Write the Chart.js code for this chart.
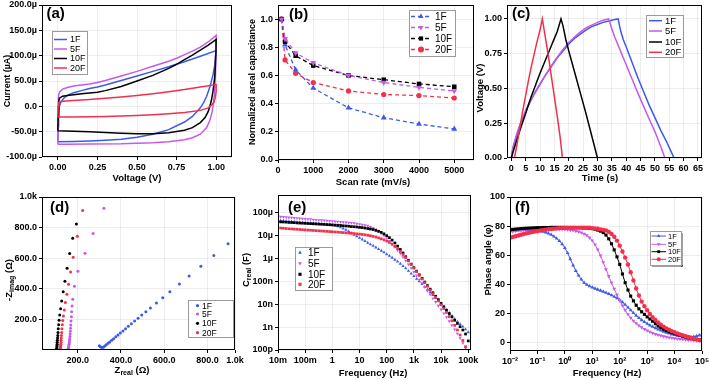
<!DOCTYPE html>
<html><head><meta charset="utf-8">
<script src="https://cdn.jsdelivr.net/npm/chart.js@4.4.1/dist/chart.umd.min.js"></script>
<style>
html,body{margin:0;padding:0;background:#fff;}
body{width:709px;height:380px;position:relative;overflow:hidden;}
canvas{position:absolute;left:0;top:0;}
</style></head><body>
<canvas id="ca" width="709" height="380"></canvas>
<canvas id="cb" width="709" height="380"></canvas>
<canvas id="cc" width="709" height="380"></canvas>
<canvas id="cd" width="709" height="380"></canvas>
<canvas id="ce" width="709" height="380"></canvas>
<canvas id="cf" width="709" height="380"></canvas>
<script>
// ---------------- DATA ----------------
const seriesNames = ['1F','5F','10F','20F'];

// (a) CV loops: [voltage V, current µA]
const cv1F = [[0,-70],[0.002,-40],[0.005,-15],[0.01,0],[0.02,9],[0.04,17],[0.07,23],[0.1,27],[0.15,31],[0.2,35],[0.25,38],[0.3,42],[0.4,51],[0.5,60],[0.6,69],[0.7,78],[0.75,83],[0.8,88],[0.9,99],[1.0,110],
  [0.995,95],[0.99,80],[0.98,62],[0.96,38],[0.94,20],[0.92,7],[0.9,-3],[0.85,-20],[0.8,-31],[0.7,-46],[0.6,-55],[0.5,-61],[0.4,-65],[0.3,-67],[0.2,-68.5],[0.1,-69.5],[0,-70]];
const cv5F = [[0,-75],[0.001,-40],[0.002,0],[0.004,20],[0.01,28],[0.03,34],[0.06,37],[0.1,40],[0.15,42],[0.2,44],[0.25,47],[0.3,51],[0.4,60],[0.5,69],[0.6,79],[0.7,89],[0.75,95],[0.8,102],[0.85,109],[0.9,117],[0.95,127],[1.0,140],
  [1.0,130],[0.998,100],[0.995,60],[0.99,30],[0.985,10],[0.975,-10],[0.96,-28],[0.94,-42],[0.9,-55],[0.85,-62],[0.8,-66],[0.7,-70],[0.6,-72],[0.5,-73],[0.4,-74],[0.2,-74.5],[0.05,-75],[0,-75]];
const cv10F = [[0,-48],[0.002,-20],[0.005,10],[0.01,16],[0.03,20],[0.07,22],[0.1,23],[0.15,25],[0.2,26.5],[0.25,28],[0.3,31],[0.4,39],[0.5,50],[0.6,61],[0.7,75],[0.75,83],[0.8,92],[0.85,101],[0.9,111],[0.95,121],[1.0,132],
  [0.999,110],[0.995,80],[0.99,55],[0.98,30],[0.97,12],[0.96,0],[0.95,-10],[0.93,-22],[0.9,-32],[0.85,-42],[0.8,-47],[0.7,-52],[0.6,-54],[0.5,-54],[0.4,-53],[0.3,-51.5],[0.2,-50],[0.1,-49],[0,-48]];
const cv20F = [[0,-21],[0.002,0],[0.005,7],[0.01,9],[0.05,10.5],[0.1,11.5],[0.2,13.5],[0.3,16],[0.4,18.5],[0.5,21.5],[0.6,25],[0.7,29],[0.8,33],[0.9,38],[1.0,43],
  [1.0,30],[0.995,18],[0.985,8],[0.97,2],[0.95,-3],[0.9,-8],[0.8,-12],[0.7,-14.5],[0.6,-16.5],[0.5,-18],[0.4,-19],[0.3,-20],[0.2,-20.5],[0.1,-21],[0,-21]];
const aXTicks = [0,0.25,0.5,0.75,1.0];
const aXLabels = ['0.00','0.25','0.50','0.75','1.00'];
const aYTicks = [-100,-50,0,50,100,150,200];
const aYLabels = ['-100.0µ','-50.0µ','0.0','50.0µ','100.0µ','150.0µ','200.0µ'];

// (b) normalized areal capacitance vs scan rate
const scanRate = [100,200,500,1000,2000,3000,4000,5000];
const cap1F  = [1.0,0.817,0.64,0.51,0.37,0.30,0.255,0.22];
const cap5F  = [1.0,0.86,0.76,0.69,0.60,0.55,0.515,0.49];
const cap10F = [1.0,0.84,0.74,0.67,0.60,0.57,0.54,0.52];
const cap20F = [1.0,0.71,0.615,0.55,0.49,0.465,0.457,0.44];
const bXTicks = [0,1000,2000,3000,4000,5000];
const bXLabels = ['0','1000','2000','3000','4000','5000'];
const bYTicks = [0,0.2,0.4,0.6,0.8,1.0];
const bYLabels = ['0.0','0.2','0.4','0.6','0.8','1.0'];

// (c) galvanostatic charge/discharge: [time s, voltage V]
const gcd1F = [[0,0],[0.5,0.06],[1,0.1],[2,0.17],[3,0.23],[4,0.285],[5,0.335],[6,0.38],[8,0.46],[10,0.53],[12,0.6],[14,0.66],[16,0.72],[18,0.77],[20,0.82],[22,0.86],[24,0.89],[26,0.92],[28,0.945],[30,0.96],[32,0.975],[34,0.985],[36,0.995],[37.2,1.0],
  [38,0.92],[39,0.85],[40,0.8],[42,0.69],[44,0.58],[46,0.48],[48,0.38],[50,0.29],[52,0.2],[54,0.12],[56,0.03],[56.7,0]];
const gcd5F = [[0,0],[0.5,0.07],[1,0.11],[2,0.18],[3,0.24],[4,0.29],[5,0.34],[6,0.385],[8,0.465],[10,0.535],[12,0.6],[14,0.665],[16,0.725],[18,0.78],[20,0.83],[22,0.87],[24,0.905],[26,0.935],[28,0.955],[30,0.975],[32,0.99],[33.9,1.0],
  [35,0.93],[36,0.87],[38,0.77],[40,0.67],[42,0.57],[44,0.47],[46,0.375],[48,0.28],[50,0.19],[52,0.085],[53.5,0]];
const gcd10F = [[0,0],[1,0.07],[2,0.135],[3,0.2],[4,0.26],[5,0.32],[6,0.385],[7,0.445],[8,0.5],[9,0.555],[10,0.61],[11,0.66],[12,0.71],[13,0.76],[14,0.81],[15,0.86],[16,0.91],[17.3,1.0],
  [18,0.95],[19,0.85],[20,0.77],[22,0.62],[24,0.47],[26,0.32],[28,0.16],[30,0]];
const gcd20F = [[1.1,0],[2,0.1],[3,0.22],[4,0.34],[5,0.45],[6,0.56],[7,0.66],[8,0.75],[9,0.84],[10,0.92],[10.8,1.0],
  [12,0.85],[13,0.72],[14,0.58],[15,0.44],[16,0.3],[17,0.15],[17.8,0]];
const cXTicks = [0,5,10,15,20,25,30,35,40,45,50,55,60,65];
const cXLabels = ['0','5','10','15','20','25','30','35','40','45','50','55','60','65'];
const cYTicks = [0,0.25,0.5,0.75,1.0];
const cYLabels = ['0.00','0.25','0.50','0.75','1.00'];

// (d) Nyquist: [Zreal Ω, -Zimag Ω]
const nyq1F = [[300,27],[305,21],[311,17],[318,18],[325,26],[332,34],[340,44],[348,53],[357,64],[366,74],[376,86],[386,98],[397,111],[409,125],[421,139],[434,156],[448,172],[463,190],[479,208],[496,228],[515,250],[536,275],[564,308],[593,342],[626,380],[670,432],[715,484],[769,548],[829,618],[895,695]];
const nyq5F = [[156,3],[157,10],[158,18],[159,27],[160,37],[161,48],[162,60],[163,73],[164,88],[165,104],[166,122],[167,142],[168,164],[169,189],[171,217],[172,250],[174,288],[177,331],[185,416],[201,514],[234,632],[271,762],[321,926]];
const nyq10F = [[103,4],[103,11],[104,19],[104,28],[105,38],[105,50],[106,63],[107,78],[108,95],[109,115],[110,139],[112,165],[114,194],[117,228],[121,270],[126,320],[133,380],[141,450],[151,535],[163,630],[177,730],[194,824]];
const nyq20F = [[120,4],[120,11],[121,19],[121,28],[122,38],[123,50],[123,63],[124,78],[125,95],[126,115],[127,139],[129,165],[131,192],[134,222],[138,262],[143,310],[150,365],[158,430],[167,509],[179,607],[198,743],[223,911]];
const dXTicks = [200,400,600,800,927];
const dXLabels = ['200.0','400.0','600.0','800.0','1.0k'];
const dYTicks = [200,400,600,800,1000];
const dYLabels = ['200.0','400.0','600.0','800.0','1.0k'];

// (e),(f) frequency sweep
const freq = [0.01,0.0126,0.0158,0.02,0.0251,0.0316,0.0398,0.0501,0.0631,0.0794,
  0.1,0.126,0.158,0.2,0.251,0.316,0.398,0.501,0.631,0.794,
  1,1.26,1.58,2,2.51,3.16,3.98,5.01,6.31,7.94,
  10,12.6,15.8,20,25.1,31.6,39.8,50.1,63.1,79.4,
  100,126,158,200,251,316,398,501,631,794,
  1000,1260,1580,2000,2510,3160,3980,5010,6310,7940,
  10000,12600,15800,20000,25100,31600,39800,50100,63100,79400,100000];

const creal1F = [4.6e-5,4.5e-5,4.4e-5,4.3e-5,4.2e-5,4.1e-5,4.0e-5,3.9e-5,3.8e-5,3.75e-5,
  3.7e-5,3.6e-5,3.55e-5,3.5e-5,3.4e-5,3.35e-5,3.3e-5,3.2e-5,3.1e-5,3.0e-5,
  2.9e-5,2.75e-5,2.55e-5,2.3e-5,2.05e-5,1.8e-5,1.55e-5,1.3e-5,1.1e-5,9.4e-6,
  8.0e-6,6.8e-6,5.8e-6,4.9e-6,4.2e-6,3.6e-6,3.05e-6,2.6e-6,2.2e-6,1.85e-6,
  1.55e-6,1.3e-6,1.08e-6,8.9e-7,7.3e-7,5.9e-7,4.7e-7,3.7e-7,2.9e-7,2.2e-7,
  1.7e-7,1.3e-7,1.0e-7,7.6e-8,5.8e-8,4.4e-8,3.3e-8,2.5e-8,1.85e-8,1.38e-8,
  1.02e-8,7.6e-9,5.6e-9,4.2e-9,3.1e-9,2.3e-9,1.75e-9,1.35e-9,1.05e-9,8.0e-10,6.0e-10];
const creal5F = [6.8e-5,6.7e-5,6.5e-5,6.4e-5,6.2e-5,6.1e-5,5.9e-5,5.8e-5,5.6e-5,5.5e-5,
  5.4e-5,5.3e-5,5.2e-5,5.0e-5,4.9e-5,4.8e-5,4.7e-5,4.6e-5,4.5e-5,4.4e-5,
  4.3e-5,4.2e-5,4.1e-5,4.0e-5,3.9e-5,3.8e-5,3.7e-5,3.6e-5,3.5e-5,3.3e-5,
  3.2e-5,3.05e-5,2.9e-5,2.7e-5,2.4e-5,2.1e-5,1.85e-5,1.55e-5,1.25e-5,1.0e-5,
  7.8e-6,5.9e-6,4.4e-6,3.2e-6,2.3e-6,1.65e-6,1.15e-6,8.0e-7,5.5e-7,3.8e-7,
  2.6e-7,1.8e-7,1.2e-7,8.3e-8,5.7e-8,3.9e-8,2.7e-8,1.8e-8,1.25e-8,8.6e-9,
  5.9e-9,4.0e-9,2.7e-9,1.8e-9,1.2e-9,8.0e-10,5.2e-10,3.3e-10,2.0e-10,1.2e-10,7.0e-11];
const creal10F = [4.1e-5,4.0e-5,3.95e-5,3.9e-5,3.8e-5,3.75e-5,3.7e-5,3.6e-5,3.55e-5,3.5e-5,
  3.45e-5,3.4e-5,3.35e-5,3.3e-5,3.25e-5,3.2e-5,3.15e-5,3.1e-5,3.05e-5,3.0e-5,
  2.95e-5,2.9e-5,2.85e-5,2.8e-5,2.7e-5,2.65e-5,2.6e-5,2.5e-5,2.45e-5,2.4e-5,
  2.3e-5,2.25e-5,2.15e-5,2.05e-5,1.95e-5,1.85e-5,1.7e-5,1.55e-5,1.4e-5,1.2e-5,
  1.0e-5,8.2e-6,6.4e-6,4.8e-6,3.5e-6,2.5e-6,1.75e-6,1.2e-6,8.3e-7,5.7e-7,
  4.0e-7,2.8e-7,1.95e-7,1.35e-7,9.4e-8,6.6e-8,4.6e-8,3.2e-8,2.25e-8,1.6e-8,
  1.1e-8,7.8e-9,5.5e-9,3.9e-9,2.8e-9,2.0e-9,1.45e-9,1.05e-9,7.5e-10,5.0e-10,2.5e-10];
const creal20F = [2.2e-5,2.15e-5,2.1e-5,2.05e-5,2.0e-5,1.97e-5,1.93e-5,1.9e-5,1.86e-5,1.82e-5,
  1.78e-5,1.75e-5,1.72e-5,1.69e-5,1.66e-5,1.63e-5,1.6e-5,1.57e-5,1.54e-5,1.51e-5,
  1.48e-5,1.45e-5,1.42e-5,1.39e-5,1.36e-5,1.33e-5,1.3e-5,1.27e-5,1.24e-5,1.2e-5,
  1.17e-5,1.13e-5,1.09e-5,1.04e-5,9.9e-6,9.3e-6,8.7e-6,8.0e-6,7.3e-6,6.6e-6,
  5.8e-6,5.0e-6,4.2e-6,3.4e-6,2.7e-6,2.05e-6,1.5e-6,1.1e-6,7.8e-7,5.5e-7,
  3.8e-7,2.65e-7,1.85e-7,1.28e-7,8.8e-8,6.1e-8,4.2e-8,2.9e-8,2.0e-8,1.4e-8,
  9.5e-9,6.5e-9,4.4e-9,2.9e-9,1.9e-9,1.2e-9,7.5e-10,4.5e-10,2.6e-10,1.4e-10,7e-11];
const eXTicks = [0.01,0.1,1,10,100,1000,10000,100000];
const eXLabels = ['10m','100m','1','10','100','1k','10k','100k'];
const eYTicks = [1e-10,1e-9,1e-8,1e-7,1e-6,1e-5,1e-4];
const eYLabels = ['100p','1n','10n','100n','1µ','10µ','100µ'];

const phase1F = [76.5,76.7,76.9,77.1,77.2,77.3,77.3,77.3,77.2,77.1,
  77.0,76.6,76.2,75.6,74.9,74.0,72.9,71.5,69.8,67.6,
  65.0,61.5,57.3,53.0,49.2,46.0,43.2,41.0,39.6,38.6,
  37.7,37.0,36.3,35.6,34.9,34.1,33.3,32.4,31.4,30.3,
  29.1,27.6,25.9,24.0,22.1,20.2,18.4,16.8,15.3,14.0,
  12.8,11.7,10.7,9.8,8.9,8.1,7.4,6.7,6.1,5.5,
  5.0,4.6,4.2,3.9,3.7,3.6,3.7,3.9,4.3,4.8,5.3];
const phase5F = [76.0,76.3,76.6,76.9,77.1,77.3,77.5,77.6,77.7,77.8,
  77.9,78.0,78.0,78.1,78.1,78.1,78.1,78.0,78.0,77.9,
  77.8,77.6,77.3,77.0,76.6,76.1,75.5,74.7,73.6,72.0,
  70.0,67.3,63.8,59.6,55.0,50.2,45.5,41.0,36.7,32.6,
  28.8,25.3,22.1,19.3,16.9,14.8,13.0,11.5,10.2,9.1,
  8.1,7.2,6.4,5.7,5.1,4.6,4.1,3.7,3.3,3.0,
  2.7,2.4,2.2,2.0,1.8,1.6,1.5,1.3,1.2,1.1,1.0];
const phase10F = [77.5,77.7,77.9,78.1,78.3,78.4,78.5,78.6,78.7,78.8,
  78.9,78.9,79.0,79.0,79.0,79.1,79.1,79.1,79.1,79.1,
  79.1,79.0,79.0,79.0,78.9,78.9,78.8,78.7,78.6,78.4,
  78.2,77.8,77.2,76.5,75.5,73.8,71.2,67.8,63.6,58.8,
  53.6,47.0,41.0,36.0,31.8,28.5,25.5,23.0,21.0,19.2,
  17.5,16.0,14.5,12.8,11.2,10.0,9.0,8.1,7.3,6.6,
  6.0,5.3,4.7,4.1,3.6,3.1,2.7,2.3,2.0,1.7,1.4];
const phase20F = [72.0,72.5,73.0,73.5,74.0,74.5,75.0,75.4,75.8,76.2,
  76.5,76.9,77.2,77.5,77.8,78.0,78.2,78.4,78.5,78.6,
  78.7,78.8,78.8,78.9,78.9,78.9,78.9,78.9,78.8,78.8,
  78.6,78.4,78.1,77.7,77.4,77.0,76.0,74.6,72.6,70.0,
  66.5,62.5,58.3,53.5,48.2,42.5,37.0,32.2,28.0,24.8,
  22.0,19.5,17.3,15.3,13.6,12.1,10.8,9.6,8.6,7.7,
  6.9,6.1,5.4,4.8,4.2,3.6,3.0,2.5,2.0,1.5,1.1];
const fXTicks = [0.01,0.1,1,10,100,1000,10000,100000];
const fXLabels = ['10⁻²','10⁻¹','10⁰','10¹','10²','10³','10⁴','10⁵'];
const fYTicks = [0,20,40,60,80,100];
const fYLabels = ['0','20','40','60','80','100'];

// ---------------- STYLE / HELPERS ----------------
const FAM = '"Liberation Sans", Arial, Helvetica, sans-serif';
const COL = {'1F':'#3c5ae8','5F':'#c65ae8','10F':'#000000','20F':'#f2304c'};
Chart.defaults.font.family = FAM;
Chart.defaults.color = '#000';

const pairsXY = p => p.map(([x,y]) => ({x, y}));
const zipXY = (xs, ys) => xs.map((x,i) => ({x, y: ys[i]}));

function axis(type, min, max, ticks, labels, pos) {
  return {
    type, min, max, position: pos, bounds: 'data',
    afterBuildTicks: s => { s.ticks = ticks.map(v => ({value: v})); },
    ticks: { callback: (v, i) => labels[i], font: {size: 9, weight: 'bold'}, color: '#000',
             padding: 2, autoSkip: false, maxRotation: 0, minRotation: 0 },
    grid: { color: 'rgba(0,0,0,0.07)', lineWidth: 1, tickLength: 3, tickColor: '#000', tickWidth: 1, drawTicks: true },
    border: { display: false },
    title: { display: false }
  };
}

function drawMarker(ctx, style, x, y, r, rot, color) {
  ctx.save();
  ctx.fillStyle = color; ctx.strokeStyle = color; ctx.lineWidth = 1;
  ctx.beginPath();
  if (style === 'triangle') {
    let a = (rot || 0) * Math.PI / 180;
    for (let k = 0; k < 3; k++) {
      const px = x + Math.sin(a) * r, py = y - Math.cos(a) * r;
      k ? ctx.lineTo(px, py) : ctx.moveTo(px, py);
      a += 2 * Math.PI / 3;
    }
    ctx.closePath();
  } else if (style === 'rect') {
    const s = r * Math.SQRT1_2;
    ctx.rect(x - s, y - s, 2 * s, 2 * s);
  } else {
    ctx.arc(x, y, r, 0, Math.PI * 2);
  }
  ctx.fill();
  ctx.restore();
}

function drawParts(ctx, t, size) {
  ctx.save();
  ctx.translate(t.x, t.y);
  if (t.rot) ctx.rotate(-Math.PI / 2);
  const fm = 'bold ' + size + 'px ' + FAM, fs = 'bold ' + Math.round(size * 0.72) + 'px ' + FAM;
  let w = 0;
  const ws = t.parts.map(p => { ctx.font = p.sub ? fs : fm; const m = ctx.measureText(p.t).width; w += m; return m; });
  let cx = -w / 2;
  ctx.fillStyle = '#000'; ctx.textAlign = 'left'; ctx.textBaseline = 'middle';
  t.parts.forEach((p, i) => { ctx.font = p.sub ? fs : fm; ctx.fillText(p.t, cx, p.sub ? size * 0.32 : 0); cx += ws[i]; });
  ctx.restore();
}

function makeDeco(cfg) {
  return {
    id: 'deco',
    afterDraw(chart) {
      const ctx = chart.ctx, a = chart.chartArea;
      ctx.save();
      // frame
      ctx.strokeStyle = '#000'; ctx.lineWidth = 1;
      const l = Math.round(a.left), t = Math.round(a.top), r = Math.round(a.right), b = Math.round(a.bottom);
      ctx.strokeRect(l + 0.5, t + 0.5, r - l - 1, b - t - 1);
      // legend
      const L = cfg.legend;
      ctx.fillStyle = '#fff'; ctx.fillRect(L.x, L.y, L.w, L.h);
      if (L.shadow) { ctx.fillStyle = '#444'; ctx.fillRect(L.x + 2, L.y + L.h, L.w, 1.5); ctx.fillRect(L.x + L.w, L.y + 2, 1.5, L.h); }
      ctx.strokeStyle = '#9a9a9a'; ctx.lineWidth = 1;
      ctx.strokeRect(L.x + 0.5, L.y + 0.5, L.w, L.h);
      chart.data.datasets.forEach((ds, i) => {
        const yy = L.rows[i];
        if (L.line) {
          ctx.strokeStyle = ds.borderColor; ctx.lineWidth = L.lw || 1.3;
          ctx.setLineDash(ds.borderDash || []);
          ctx.beginPath(); ctx.moveTo(L.x0, yy); ctx.lineTo(L.x1, yy); ctx.stroke();
          ctx.setLineDash([]);
        }
        if (L.marker) drawMarker(ctx, ds.pointStyle, L.mx, yy, L.mr, ds.pointRotation, ds.pointBackgroundColor);
        ctx.fillStyle = '#000'; ctx.font = L.font + ' ' + FAM; ctx.textAlign = 'left'; ctx.textBaseline = 'middle';
        ctx.fillText(ds.label, L.tx, yy + 0.5);
      });
      // panel letter
      ctx.fillStyle = '#000'; ctx.font = 'bold 15px ' + FAM; ctx.textAlign = 'left'; ctx.textBaseline = 'middle';
      ctx.fillText(cfg.letter.t, cfg.letter.x, cfg.letter.y);
      // axis titles
      drawParts(ctx, cfg.xTitle, cfg.xTitle.size || 9.5);
      drawParts(ctx, cfg.yTitle, cfg.yTitle.size || 9.5);
      ctx.restore();
    }
  };
}

function mk(id, area, xAx, yAx, datasets, deco) {
  const YW = 36, XH = 18;
  xAx.afterFit = s => { s.height = XH; s.paddingLeft = 0; s.paddingRight = 0; };
  yAx.afterFit = s => { s.width = YW; s.paddingTop = 0; s.paddingBottom = 0; };
  new Chart(document.getElementById(id), {
    type: 'scatter',
    data: { datasets },
    options: {
      responsive: false, animation: false, devicePixelRatio: 1, events: [],
      layout: { autoPadding: false, padding: { left: area.l - YW, right: 709 - area.r, top: area.t, bottom: 380 - area.b - XH } },
      plugins: { legend: { display: false }, tooltip: { enabled: false } },
      scales: { x: xAx, y: yAx }
    },
    plugins: [makeDeco(deco)]
  });
}

function ds(name, data, extra) {
  const c = COL[name];
  return Object.assign({ label: name, data, borderColor: c, backgroundColor: c, pointBackgroundColor: c, pointBorderColor: c, pointBorderWidth: 0 }, extra);
}

// ---------------- (a) ----------------
{
  const line = o => Object.assign({ showLine: true, pointRadius: 0, borderWidth: 1.5, tension: 0 }, o);
  mk('ca', {l: 42, r: 232, t: 5, b: 157},
    axis('linear', -0.1, 1.1, aXTicks, aXLabels, 'bottom'),
    axis('linear', -100, 200, aYTicks, aYLabels, 'left'),
    [ds('1F', pairsXY(cv1F), line({order: 3})), ds('5F', pairsXY(cv5F), line({order: 2})),
     ds('10F', pairsXY(cv10F), line({order: 1})), ds('20F', pairsXY(cv20F), line({order: 0}))],
    { letter: {t: '(a)', x: 46.5, y: 14},
      xTitle: {x: 137, y: 178, parts: [{t: 'Voltage (V)'}]},
      yTitle: {x: 8, y: 81, rot: true, size: 9, parts: [{t: 'Current (µA)'}]},
      legend: {x: 52, y: 31, w: 35, h: 43, rows: [39.5, 49, 58.5, 68], x0: 54, x1: 67, tx: 70, line: true, lw: 1.5, font: '9px'} });
}
// ---------------- (b) ----------------
{
  const o = (st, rot, r, ord) => ({ showLine: true, borderWidth: 1.3, borderDash: [4, 3], pointRadius: r, pointStyle: st, pointRotation: rot, order: ord });
  mk('cb', {l: 278, r: 474, t: 5, b: 160},
    axis('linear', 0, 5560, bXTicks, bXLabels, 'bottom'),
    axis('linear', 0, 1.1, bYTicks, bYLabels, 'left'),
    [ds('1F', zipXY(scanRate, cap1F), o('triangle', 0, 3.4, 3)), ds('5F', zipXY(scanRate, cap5F), o('triangle', 180, 3.4, 0)),
     ds('10F', zipXY(scanRate, cap10F), o('rect', 0, 3.2, 1)), ds('20F', zipXY(scanRate, cap20F), o('circle', 0, 2.6, 2))],
    { letter: {t: '(b)', x: 289, y: 15},
      xTitle: {x: 373, y: 182, parts: [{t: 'Scan rate (mV/s)'}]},
      yTitle: {x: 253, y: 82, rot: true, size: 9, parts: [{t: 'Normalized areal capacitance'}]},
      legend: {x: 409, y: 10, w: 46, h: 46, rows: [16.5, 27.5, 38.5, 49.5], x0: 411, x1: 431, mx: 421, mr: 3, tx: 435, line: true, marker: true, font: '10px'} });
}
// ---------------- (c) ----------------
{
  const line = o => Object.assign({ showLine: true, pointRadius: 0, borderWidth: 1.5, tension: 0 }, o);
  mk('cc', {l: 507, r: 702, t: 5, b: 158},
    axis('linear', -1.5, 66.4, cXTicks, cXLabels, 'bottom'),
    axis('linear', 0, 1.1, cYTicks, cYLabels, 'left'),
    [ds('1F', pairsXY(gcd1F), line({order: 3})), ds('5F', pairsXY(gcd5F), line({order: 2})),
     ds('10F', pairsXY(gcd10F), line({order: 1})), ds('20F', pairsXY(gcd20F), line({order: 0}))],
    { letter: {t: '(c)', x: 512, y: 13.5},
      xTitle: {x: 600, y: 178, parts: [{t: 'Time (s)'}]},
      yTitle: {x: 480, y: 88, rot: true, parts: [{t: 'Voltage (V)'}]},
      legend: {x: 646, y: 15, w: 37, h: 42, rows: [20.7, 31, 42, 52.3], x0: 649, x1: 662, tx: 665, line: true, lw: 1.5, font: '9.5px'} });
}
// ---------------- (d) ----------------
{
  const o = ord => ({ pointRadius: 1.5, pointStyle: 'circle', order: ord });
  mk('cd', {l: 42, r: 235, t: 197, b: 350},
    axis('linear', 35, 927, dXTicks, dXLabels, 'bottom'),
    axis('linear', 0, 1000, dYTicks, dYLabels, 'left'),
    [ds('1F', pairsXY(nyq1F), o(3)), ds('5F', pairsXY(nyq5F), o(2)),
     ds('10F', pairsXY(nyq10F), o(1)), ds('20F', pairsXY(nyq20F), o(0))],
    { letter: {t: '(d)', x: 50, y: 207.5},
      xTitle: {x: 132, y: 370, parts: [{t: 'Z'}, {t: 'real', sub: true}, {t: ' (Ω)'}]},
      yTitle: {x: 9, y: 280, rot: true, parts: [{t: '-Z'}, {t: 'imag', sub: true}, {t: ' (Ω)'}]},
      legend: {x: 188, y: 300, w: 45, h: 37, rows: [305.7, 314, 323.3, 332.7], mx: 197.5, mr: 1.6, tx: 202, marker: true, font: '8.5px'} });
}
// ---------------- (e) ----------------
{
  const o = (st, rot, ord) => ({ pointRadius: 1.9, pointStyle: st, pointRotation: rot, order: ord });
  mk('ce', {l: 278, r: 471, t: 195, b: 350},
    axis('logarithmic', 0.01, 1.26e5, eXTicks, eXLabels, 'bottom'),
    axis('logarithmic', 1e-10, 6e-4, eYTicks, eYLabels, 'left'),
    [ds('1F', zipXY(freq, creal1F), o('triangle', 0, 3)), ds('5F', zipXY(freq, creal5F), o('triangle', 180, 2)),
     ds('10F', zipXY(freq, creal10F), o('rect', 0, 1)), ds('20F', zipXY(freq, creal20F), o('rect', 0, 0))],
    { letter: {t: '(e)', x: 288, y: 207.5},
      xTitle: {x: 373, y: 373, parts: [{t: 'Frequency (Hz)'}]},
      yTitle: {x: 246, y: 270, rot: true, parts: [{t: 'C'}, {t: 'real', sub: true}, {t: ' (F)'}]},
      legend: {x: 295, y: 247, w: 37, h: 43, rows: [252.7, 263.3, 274.3, 284.3], mx: 300, mr: 2.2, tx: 308, marker: true, font: '10px'} });
}
// ---------------- (f) ----------------
{
  const o = (st, rot, ord) => ({ showLine: true, borderWidth: 1, pointRadius: 2.2, pointStyle: st, pointRotation: rot, order: ord });
  mk('cf', {l: 510, r: 702, t: 197, b: 351},
    axis('logarithmic', 0.01, 1e5, fXTicks, fXLabels, 'bottom'),
    axis('linear', -6, 100, fYTicks, fYLabels, 'left'),
    [ds('1F', zipXY(freq, phase1F), o('triangle', 0, 3)), ds('5F', zipXY(freq, phase5F), o('triangle', 180, 2)),
     ds('10F', zipXY(freq, phase10F), o('rect', 0, 1)), ds('20F', zipXY(freq, phase20F), o('circle', 0, 0))],
    { letter: {t: '(f)', x: 515, y: 207.5},
      xTitle: {x: 607, y: 373, parts: [{t: 'Frequency (Hz)'}]},
      yTitle: {x: 488, y: 260, rot: true, parts: [{t: 'Phase angle (φ)'}]},
      legend: {x: 650, y: 231, w: 31, h: 34, rows: [236, 244.3, 251.7, 259.3], x0: 651.5, x1: 666, mx: 658.7, mr: 2, tx: 668, line: true, lw: 1, marker: true, font: '7.5px', shadow: true} });
}
</script>
</body></html>
